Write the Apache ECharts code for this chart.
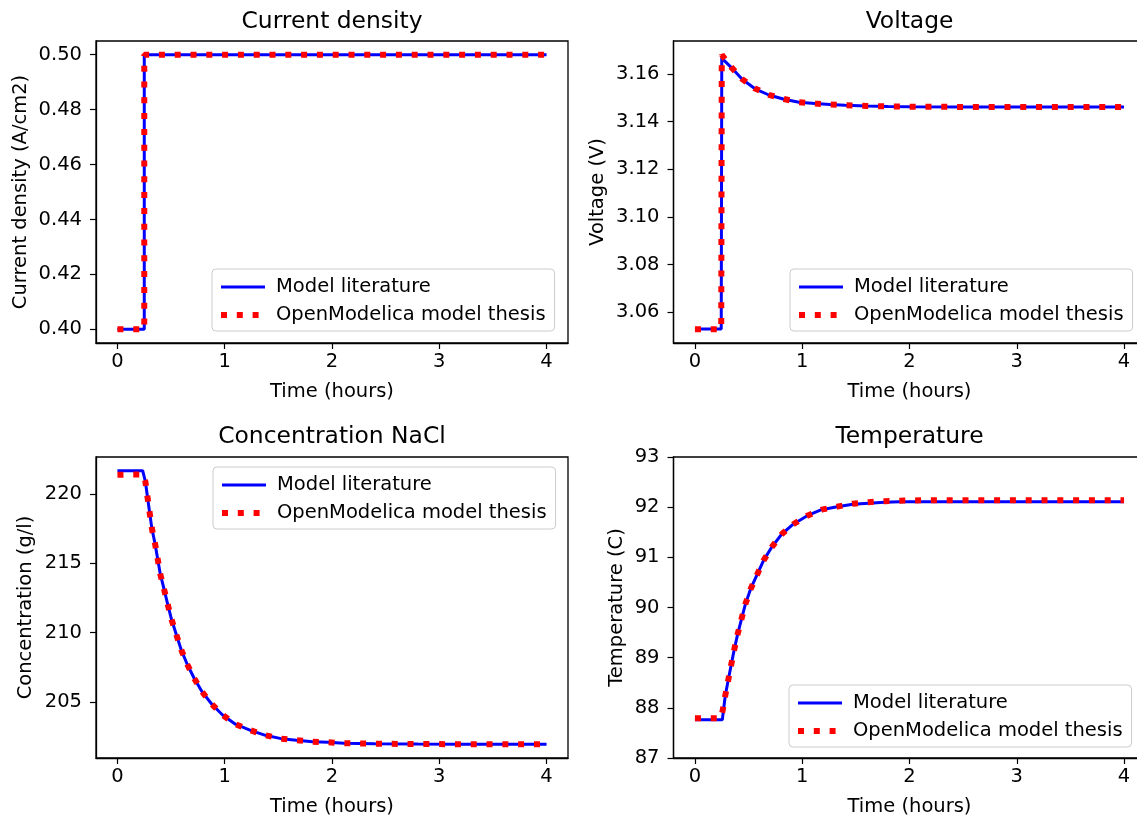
<!DOCTYPE html>
<html><head><meta charset="utf-8">
<script src="https://cdn.jsdelivr.net/npm/echarts@6/dist/echarts.min.js"></script>
<style>html,body{margin:0;padding:0;background:#fff}#c{width:1137px;height:818px}</style>
</head><body><div id="c"></div>
<script>
// ---------- data ----------
const xTicks = [0, 1, 2, 3, 4];
const seriesNames = ['Model literature', 'OpenModelica model thesis'];
const titles = ['Current density', 'Voltage', 'Concentration NaCl', 'Temperature'];
const yNames = ['Current density (A/cm2)', 'Voltage (V)', 'Concentration (g/l)', 'Temperature (C)'];
const xName = 'Time (hours)';

// Current density
const cdTimeLit = [0, 0.25, 0.25, 4];
const cdLit = [0.40, 0.40, 0.50, 0.50];
const cdTimeOM = [0, 0.25, 0.25, 4];
const cdOM = [0.40, 0.40, 0.50, 0.50];
const cdTicks = [0.40, 0.42, 0.44, 0.46, 0.48, 0.50];

// Voltage
const vTimeLit = [0, 0.245, 0.25, 0.34, 0.44, 0.56, 0.69, 0.83, 0.97, 1.12, 1.26, 1.40, 1.60, 1.80, 2.0, 2.5, 3.0, 3.5, 4.0];
const vLit = [3.0530, 3.0530, 3.1667, 3.1627, 3.1578, 3.1538, 3.1512, 3.1494, 3.1482, 3.1476, 3.1472, 3.1469, 3.1466, 3.1464, 3.1463, 3.1462, 3.1462, 3.1462, 3.1462];
const vTimeOM = [0, 0.245, 0.25, 0.34, 0.44, 0.56, 0.69, 0.83, 0.97, 1.12, 1.26, 1.40, 1.60, 1.80, 2.0, 2.5, 3.0, 3.5, 4.0];
const vOM = [3.0529, 3.0529, 3.1681, 3.1628, 3.1579, 3.1539, 3.1513, 3.1495, 3.1482, 3.1476, 3.1472, 3.1469, 3.1466, 3.1464, 3.1463, 3.1462, 3.1462, 3.1462, 3.1462];
const vTicks = [3.06, 3.08, 3.10, 3.12, 3.14, 3.16];

// Concentration NaCl
const cTimeLit = [0, 0.235, 0.26, 0.28, 0.30, 0.32, 0.35, 0.375, 0.40, 0.435, 0.47, 0.505, 0.55, 0.595, 0.65, 0.715, 0.79, 0.88, 0.98, 1.10, 1.24, 1.38, 1.525, 1.67, 1.82, 1.965, 2.11, 2.4, 2.8, 3.2, 3.6, 4.0];
const cLit = [221.69, 221.69, 220.92, 219.79, 218.67, 217.56, 216.43, 215.32, 214.20, 213.12, 211.99, 210.93, 209.83, 208.75, 207.72, 206.71, 205.72, 204.83, 204.06, 203.39, 202.95, 202.59, 202.35, 202.23, 202.13, 202.09, 202.02, 201.98, 201.96, 201.95, 201.94, 201.94];
const cTimeOM = [0, 0.24, 0.26, 0.28, 0.30, 0.32, 0.35, 0.375, 0.40, 0.435, 0.47, 0.505, 0.55, 0.595, 0.65, 0.715, 0.79, 0.88, 0.98, 1.10, 1.24, 1.38, 1.525, 1.67, 1.82, 1.965, 2.11, 2.4, 2.8, 3.2, 3.6, 4.0];
const cOM = [221.40, 221.42, 220.92, 219.79, 218.67, 217.56, 216.43, 215.32, 214.20, 213.12, 211.99, 210.93, 209.83, 208.75, 207.72, 206.71, 205.72, 204.83, 204.06, 203.39, 202.95, 202.59, 202.35, 202.23, 202.13, 202.09, 202.02, 201.98, 201.96, 201.95, 201.94, 201.94];
const cTicks = [205, 210, 215, 220];

// Temperature
const tTimeLit = [0, 0.255, 0.283, 0.31, 0.338, 0.366, 0.398, 0.435, 0.472, 0.519, 0.578, 0.64, 0.718, 0.808, 0.916, 1.047, 1.18, 1.326, 1.472, 1.619, 1.768, 1.91, 2.2, 2.6, 3.0, 3.5, 4.0];
const tLit = [87.76, 87.76, 88.25, 88.55, 88.86, 89.16, 89.47, 89.78, 90.08, 90.37, 90.65, 90.94, 91.21, 91.46, 91.66, 91.83, 91.95, 92.01, 92.06, 92.08, 92.10, 92.11, 92.11, 92.11, 92.11, 92.11, 92.11];
const tTimeOM = [0, 0.24, 0.258, 0.283, 0.31, 0.338, 0.366, 0.398, 0.435, 0.472, 0.519, 0.578, 0.64, 0.718, 0.808, 0.916, 1.047, 1.18, 1.326, 1.472, 1.619, 1.768, 1.91, 2.2, 2.6, 3.0, 3.5, 4.0];
const tOM = [87.79, 87.79, 87.94, 88.25, 88.55, 88.86, 89.16, 89.47, 89.78, 90.08, 90.37, 90.65, 90.94, 91.21, 91.46, 91.66, 91.83, 91.95, 92.01, 92.07, 92.10, 92.12, 92.13, 92.14, 92.14, 92.14, 92.14, 92.14];
const tTicks = [87, 88, 89, 90, 91, 92, 93];
const tLimits = [87, 93];

// ---------- build ----------
const F = 'DejaVu Sans';
const FS = 19.5;
const zip = (a, b) => a.map((v, i) => [v, b[i]]);
function lims(a, b) {
  const all = a.concat(b);
  const mn = Math.min(...all), mx = Math.max(...all);
  const d = (mx - mn) * 0.05;
  return [mn - d, mx + d];
}

const panels = [
  { lit: zip(cdTimeLit, cdLit), om: zip(cdTimeOM, cdOM), ticks: cdTicks, lim: lims(cdLit, cdOM), fmt: v => v.toFixed(2), gap: 65 },
  { lit: zip(vTimeLit, vLit), om: zip(vTimeOM, vOM), ticks: vTicks, lim: lims(vLit, vOM), fmt: v => v.toFixed(2), gap: 66 },
  { lit: zip(cTimeLit, cLit), om: zip(cTimeOM, cOM), ticks: cTicks, lim: lims(cLit, cOM), fmt: v => String(Math.round(v)), gap: 60 },
  { lit: zip(tTimeLit, tLit), om: zip(tTimeOM, tOM), ticks: tTicks, lim: tLimits, fmt: v => String(Math.round(v)), gap: 47 }
];

const gridPos = [
  { left: 96, top: 41, width: 472, height: 302 },
  { left: 673.5, top: 41, width: 472, height: 302 },
  { left: 96, top: 457, width: 472, height: 301 },
  { left: 673.5, top: 457, width: 472, height: 301 }
];
const legendPos = [
  { left: 212, top: 269 },
  { left: 790, top: 269 },
  { left: 213, top: 467 },
  { left: 789, top: 685 }
];
const titleY = [22, 22, 437, 437];

const axisLineStyle = { color: '#000', width: 1.3 };
const grid = gridPos.map(g => Object.assign({
  show: true, borderColor: '#000', borderWidth: 1.3, backgroundColor: 'transparent',
  containLabel: false, outerBoundsMode: 'none'
}, g));

const xAxis = panels.map((p, i) => ({
  type: 'value', gridIndex: i, min: -0.2, max: 4.2,
  name: xName, nameLocation: 'middle', nameGap: 39,
  nameTextStyle: { fontFamily: F, fontSize: FS, color: '#000' },
  axisLine: { show: true, onZero: false, lineStyle: axisLineStyle },
  axisTick: { show: true, length: 6, customValues: xTicks, lineStyle: { color: '#000', width: 1.2 } },
  axisLabel: { customValues: xTicks, margin: 9, fontFamily: F, fontSize: FS, color: '#000', formatter: v => String(v), hideOverlap: false },
  splitLine: { show: false }
}));

const yAxis = panels.map((p, i) => ({
  type: 'value', gridIndex: i, min: p.lim[0], max: p.lim[1],
  name: yNames[i], nameLocation: 'middle', nameGap: p.gap,
  nameTextStyle: { fontFamily: F, fontSize: FS, color: '#000' },
  axisLine: { show: true, onZero: false, lineStyle: axisLineStyle },
  axisTick: { show: true, length: 6, customValues: p.ticks, lineStyle: { color: '#000', width: 1.2 } },
  axisLabel: { customValues: p.ticks, margin: 14, fontFamily: F, fontSize: FS, color: '#000', formatter: p.fmt },
  splitLine: { show: false }
}));

const series = [];
panels.forEach((p, i) => {
  series.push({
    type: 'line', name: seriesNames[0], xAxisIndex: i, yAxisIndex: i, data: p.lit,
    symbol: 'none', showSymbol: false, z: 2, lineStyle: { color: '#0000ff', width: 3 }, itemStyle: { color: '#0000ff' }
  });
  series.push({
    type: 'line', name: seriesNames[1], xAxisIndex: i, yAxisIndex: i, data: p.om,
    symbol: 'none', showSymbol: false, z: 3, lineStyle: { color: '#ff0000', width: 6, type: [6, 9.8], cap: 'butt' }, itemStyle: { color: '#ff0000' }
  });
});

const legend = legendPos.map(l => ({
  left: l.left, top: l.top, orient: 'vertical', data: seriesNames,
  itemWidth: 44, itemHeight: 20, itemGap: 8, padding: [8, 9, 6, 6],
  backgroundColor: 'rgba(255,255,255,0.8)', borderColor: '#cccccc', borderWidth: 1, borderRadius: 4,
  selectedMode: false,
  itemStyle: { opacity: 0, borderWidth: 0 },
  lineStyle: { width: 'inherit', opacity: 1 },
  textStyle: { fontFamily: F, fontSize: FS, color: '#000', padding: [0, 0, 0, 6], lineHeight: 20 }
}));

const graphic = titles.map((t, i) => ({
  type: 'text', x: gridPos[i].left + gridPos[i].width / 2, y: titleY[i],
  style: { text: t, fontFamily: F, fontSize: 23.4, fill: '#000', align: 'center', verticalAlign: 'middle', textAlign: 'center', textVerticalAlign: 'middle' }
}));

const chart = echarts.init(document.getElementById('c'), null, { renderer: 'canvas' });
chart.setOption({
  animation: false,
  backgroundColor: '#fff',
  grid, xAxis, yAxis, series, legend, graphic
});
</script></body></html>
